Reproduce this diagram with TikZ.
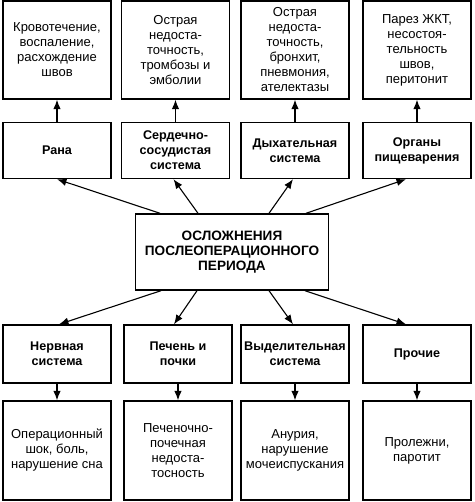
\documentclass[tikz,border=0pt]{standalone}
\usepackage{fontspec}
\setmainfont{Liberation Sans}
\usetikzlibrary{arrows.meta}

\begin{document}
\begin{tikzpicture}[x=1pt, y=-1pt, >={Latex[length=9.5pt,width=7.5pt]},
  box/.style={draw, line width=1.4pt, align=center, inner sep=0pt,
    font=\fontsize{13}{15}\selectfont},
  res/.style={box, minimum width=108pt, minimum height=98pt},
  grp/.style={box, minimum width=108pt, minimum height=56pt,
    font=\fontsize{12.6}{15}\selectfont\bfseries},
  conn/.style={->, line width=1.1pt}]

  \useasboundingbox (0,0) rectangle (474,502);

  % upper results
  \node (rrana) at (57,50) [res] {Кровотечение,\\воспаление,\\расхождение\\швов};
  \node (rserd) at (175.5,50) [res] {Острая\\недоста-\\точность,\\тромбозы и\\эмболии};
  \node (rdyh) at (295,50) [res] {Острая\\недоста-\\точность,\\бронхит,\\пневмония,\\ателектазы};
  \node (rpish) at (417,50) [res] {Парез ЖКТ,\\несостоя-\\тельность\\швов,\\перитонит};

  % upper groups
  \node (rana) at (57,150.5) [grp] {Рана};
  \node (serd) at (175.5,150.5) [grp] {Сердечно-\\сосудистая\\система};
  \node (dyh) at (295,150.5) [grp] {Дыхательная\\система};
  \node (pish) at (417,150.5) [grp] {Органы\\пищеварения};

  \node (osl) at (232,252) [box, minimum width=193pt, minimum height=76pt,
    font=\fontsize{13.6}{15}\selectfont\bfseries] {ОСЛОЖНЕНИЯ\\ПОСЛЕОПЕРАЦИОННОГО\\ПЕРИОДА};

  % lower groups
  \node (nerv) at (57,354) [grp, minimum height=58pt] {Нервная\\система};
  \node (pech) at (178,354) [grp, minimum height=58pt] {Печень и\\почки};
  \node (vyd) at (295,354) [grp, minimum height=58pt] {Выделительная\\система};
  \node (proch) at (417,354) [grp, minimum height=58pt] {Прочие};

  % lower results
  \node (rnerv) at (57,450.5) [res, minimum height=99pt] {Операционный\\шок, боль,\\нарушение сна};
  \node (rpech) at (178,450.5) [res, minimum height=99pt] {Печеночно-\\почечная\\недоста-\\тосность};
  \node (rvyd) at (295,450.5) [res, minimum height=99pt] {Анурия,\\нарушение\\мочеиспускания};
  \node (rproch) at (417,450.5) [res, minimum height=99pt] {Пролежни,\\паротит};

  \draw [conn] (rana) -- (rrana);
  \draw [conn] (serd) -- (rserd);
  \draw [conn] (dyh) -- (rdyh);
  \draw [conn] (pish) -- (rpish);

  \draw [conn] ([xshift=-72pt]osl.north) -- (rana.south);
  \draw [conn] ([xshift=-34pt]osl.north) -- ([xshift=-2pt]serd.south);
  \draw [conn] ([xshift=37pt]osl.north) -- ([xshift=-2pt]dyh.south);
  \draw [conn] ([xshift=74pt]osl.north) -- ([xshift=-11pt]pish.south);

  \draw [conn] ([xshift=-71pt]osl.south) -- ([xshift=2pt]nerv.north);
  \draw [conn] ([xshift=-35pt]osl.south) -- ([xshift=-4pt]pech.north);
  \draw [conn] ([xshift=37pt]osl.south) -- ([xshift=-2pt]vyd.north);
  \draw [conn] ([xshift=73pt]osl.south) -- ([xshift=-11pt]proch.north);

  \draw [conn] (nerv) -- (rnerv);
  \draw [conn] (pech) -- (rpech);
  \draw [conn] (vyd) -- (rvyd);
  \draw [conn] (proch) -- (rproch);

\end{tikzpicture}
\end{document}
